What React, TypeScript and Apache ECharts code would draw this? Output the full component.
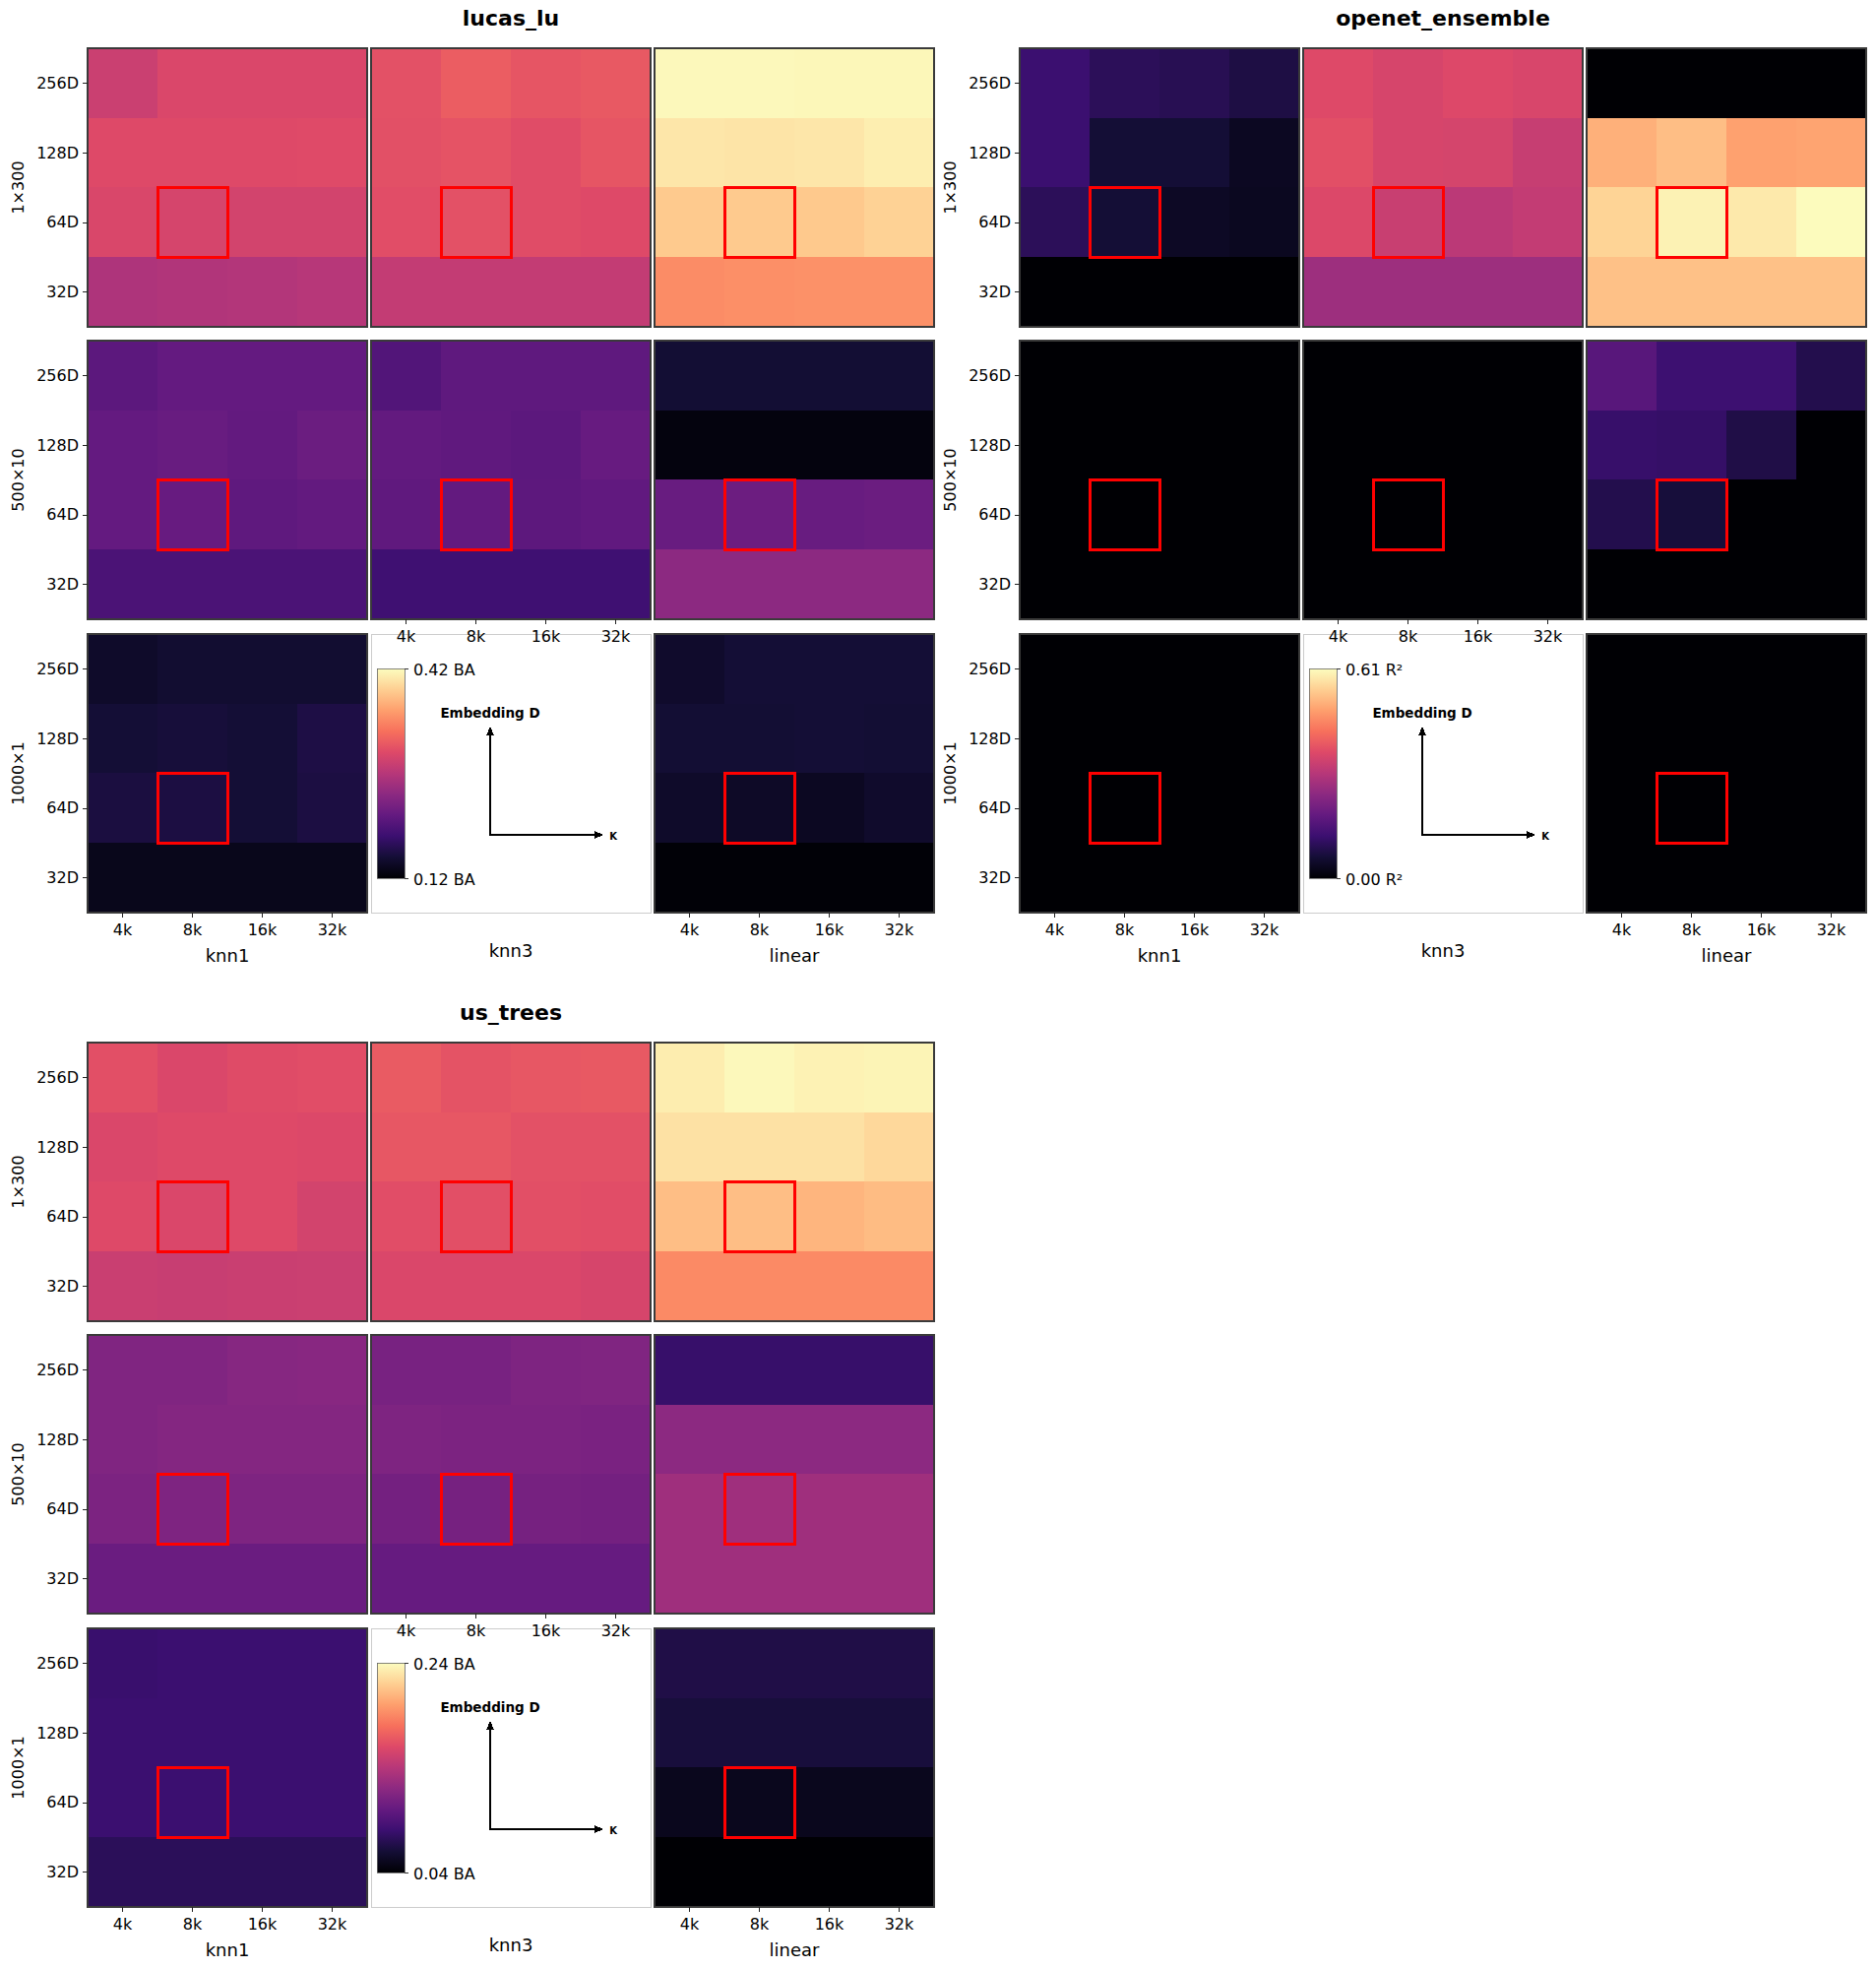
import React, { useEffect, useRef } from "react";
import * as echarts from "echarts";

// ---------- categories / labels ----------
const K_LABELS = ["4k", "8k", "16k", "32k"];
const D_LABELS = ["32D", "64D", "128D", "256D"]; // bottom -> top
const SIZE_LABELS = ["1×300", "500×10", "1000×1"];
const MODEL_LABELS = ["knn1", "knn3", "linear"];
const DATASETS = ["lucas_lu", "openet_ensemble", "us_trees"];
const RANGE_MIN = [0.12, 0.0, 0.04];
const RANGE_MAX = [0.42, 0.61, 0.24];
const UNITS = ["BA", "R²", "BA"];
const HIGHLIGHT_K = "8k";
const HIGHLIGHT_D = "64D";

const MAGMA = [
  "#000004", "#140e36", "#3b0f70", "#641a80", "#8c2981", "#b73779",
  "#de4968", "#f7705c", "#fe9f6d", "#fecf92", "#fcfdbf",
];

// ---------- values: rows listed top (256D) to bottom (32D), columns 4k..32k ----------
// lucas_lu (BA)
const lucas_1x300_knn1 = [
  [0.285, 0.297, 0.297, 0.297],
  [0.3, 0.3, 0.3, 0.301],
  [0.296, 0.293, 0.291, 0.291],
  [0.264, 0.266, 0.267, 0.27],
];
const lucas_1x300_knn3 = [
  [0.306, 0.315, 0.309, 0.312],
  [0.305, 0.308, 0.302, 0.309],
  [0.303, 0.306, 0.302, 0.3],
  [0.279, 0.279, 0.279, 0.279],
];
const lucas_1x300_linear = [
  [0.417, 0.417, 0.416, 0.416],
  [0.405, 0.404, 0.405, 0.41],
  [0.387, 0.387, 0.386, 0.392],
  [0.348, 0.35, 0.351, 0.351],
];
const lucas_500x10_knn1 = [
  [0.204, 0.21, 0.21, 0.21],
  [0.21, 0.213, 0.209, 0.215],
  [0.21, 0.212, 0.206, 0.209],
  [0.192, 0.192, 0.192, 0.192],
];
const lucas_500x10_knn3 = [
  [0.197, 0.206, 0.206, 0.206],
  [0.209, 0.207, 0.204, 0.212],
  [0.207, 0.209, 0.205, 0.208],
  [0.183, 0.183, 0.183, 0.183],
];
const lucas_500x10_linear = [
  [0.149, 0.149, 0.149, 0.149],
  [0.126, 0.126, 0.126, 0.126],
  [0.213, 0.216, 0.213, 0.215],
  [0.24, 0.24, 0.24, 0.24],
];
const lucas_1000x1_knn1 = [
  [0.143, 0.147, 0.147, 0.147],
  [0.15, 0.152, 0.15, 0.158],
  [0.155, 0.156, 0.15, 0.156],
  [0.134, 0.134, 0.134, 0.134],
];
const lucas_1000x1_linear = [
  [0.144, 0.15, 0.15, 0.15],
  [0.149, 0.149, 0.15, 0.149],
  [0.143, 0.141, 0.138, 0.144],
  [0.122, 0.122, 0.122, 0.122],
];

// openet_ensemble (R²)
const openet_1x300_knn1 = [
  [0.122, 0.098, 0.092, 0.076],
  [0.122, 0.061, 0.061, 0.037],
  [0.098, 0.061, 0.04, 0.034],
  [0.0, 0.0, 0.0, 0.0],
];
const openet_1x300_knn3 = [
  [0.366, 0.354, 0.364, 0.357],
  [0.375, 0.354, 0.351, 0.329],
  [0.363, 0.332, 0.311, 0.323],
  [0.268, 0.268, 0.268, 0.268],
];
const openet_1x300_linear = [
  [0.0, 0.0, 0.0, 0.0],
  [0.509, 0.528, 0.491, 0.494],
  [0.555, 0.595, 0.583, 0.607],
  [0.531, 0.531, 0.531, 0.531],
];
const openet_500x10_knn1 = [
  [0.0, 0.0, 0.0, 0.0],
  [0.0, 0.0, 0.0, 0.0],
  [0.0, 0.0, 0.0, 0.0],
  [0.0, 0.0, 0.0, 0.0],
];
const openet_500x10_knn3 = [
  [0.0, 0.0, 0.0, 0.0],
  [0.0, 0.0, 0.0, 0.0],
  [0.0, 0.0, 0.0, 0.0],
  [0.0, 0.0, 0.0, 0.0],
];
const openet_500x10_linear = [
  [0.165, 0.125, 0.125, 0.085],
  [0.116, 0.113, 0.079, 0.0],
  [0.085, 0.066, 0.0, 0.0],
  [0.0, 0.0, 0.0, 0.0],
];
const openet_1000x1_knn1 = [
  [0.0, 0.0, 0.0, 0.0],
  [0.0, 0.0, 0.0, 0.0],
  [0.0, 0.0, 0.0, 0.0],
  [0.0, 0.0, 0.0, 0.0],
];
const openet_1000x1_linear = [
  [0.0, 0.0, 0.0, 0.0],
  [0.0, 0.0, 0.0, 0.0],
  [0.0, 0.0, 0.0, 0.0],
  [0.0, 0.0, 0.0, 0.0],
];

// us_trees (BA)
const trees_1x300_knn1 = [
  [0.163, 0.158, 0.161, 0.162],
  [0.158, 0.16, 0.16, 0.159],
  [0.16, 0.158, 0.16, 0.154],
  [0.149, 0.148, 0.149, 0.15],
];
const trees_1x300_knn3 = [
  [0.169, 0.165, 0.167, 0.168],
  [0.167, 0.167, 0.164, 0.164],
  [0.162, 0.163, 0.163, 0.162],
  [0.158, 0.158, 0.158, 0.156],
];
const trees_1x300_linear = [
  [0.233, 0.238, 0.235, 0.236],
  [0.228, 0.228, 0.228, 0.224],
  [0.213, 0.213, 0.209, 0.212],
  [0.191, 0.191, 0.191, 0.191],
];
const trees_500x10_knn1 = [
  [0.114, 0.114, 0.117, 0.118],
  [0.114, 0.116, 0.116, 0.116],
  [0.112, 0.113, 0.113, 0.113],
  [0.103, 0.103, 0.103, 0.103],
];
const trees_500x10_knn3 = [
  [0.11, 0.11, 0.113, 0.114],
  [0.113, 0.112, 0.112, 0.111],
  [0.108, 0.109, 0.109, 0.108],
  [0.101, 0.101, 0.101, 0.101],
];
const trees_500x10_linear = [
  [0.078, 0.078, 0.078, 0.078],
  [0.12, 0.12, 0.12, 0.12],
  [0.129, 0.129, 0.129, 0.129],
  [0.129, 0.129, 0.129, 0.129],
];
const trees_1000x1_knn1 = [
  [0.079, 0.08, 0.08, 0.08],
  [0.08, 0.08, 0.08, 0.08],
  [0.08, 0.08, 0.08, 0.08],
  [0.072, 0.072, 0.072, 0.072],
];
const trees_1000x1_linear = [
  [0.066, 0.066, 0.066, 0.066],
  [0.062, 0.062, 0.062, 0.062],
  [0.05, 0.05, 0.05, 0.05],
  [0.04, 0.04, 0.04, 0.04],
];

const PANELS: (number[][] | null)[][][] = [
  [
    [lucas_1x300_knn1, lucas_1x300_knn3, lucas_1x300_linear],
    [lucas_500x10_knn1, lucas_500x10_knn3, lucas_500x10_linear],
    [lucas_1000x1_knn1, null, lucas_1000x1_linear],
  ],
  [
    [openet_1x300_knn1, openet_1x300_knn3, openet_1x300_linear],
    [openet_500x10_knn1, openet_500x10_knn3, openet_500x10_linear],
    [openet_1000x1_knn1, null, openet_1000x1_linear],
  ],
  [
    [trees_1x300_knn1, trees_1x300_knn3, trees_1x300_linear],
    [trees_500x10_knn1, trees_500x10_knn3, trees_500x10_linear],
    [trees_1000x1_knn1, null, trees_1000x1_linear],
  ],
];

// ---------- layout ----------
const COL_LEFT = [89, 377, 665];
const ROW_TOP = [49, 346, 644];
const PW = 284;
const PH = 283;
const GROUP_OFFSET = [
  [0, 0],
  [947, 0],
  [0, 1010],
];
const FONT = "DejaVu Sans";

function buildOption() {
  const grid: any[] = [];
  const xAxis: any[] = [];
  const yAxis: any[] = [];
  const series: any[] = [];
  const visualMap: any[] = [];
  const graphic: any[] = [];

  DATASETS.forEach((name, g) => {
    const [ox, oy] = GROUP_OFFSET[g];
    const seriesIdx: number[] = [];

    // legend panel frame (drawn underneath everything else)
    const lx = ox + COL_LEFT[1];
    const ly = oy + ROW_TOP[2];
    graphic.push({
      type: "rect", z: 0, silent: true,
      shape: { x: lx, y: ly, width: PW, height: PH },
      style: { fill: "none", stroke: "#cccccc", lineWidth: 1 },
    });

    // title
    graphic.push({
      type: "text",
      x: ox + (COL_LEFT[0] + COL_LEFT[2] + PW) / 2,
      y: oy + 18,
      z: 100,
      style: {
        text: name, fontSize: 22, fontWeight: "bold", fontFamily: FONT,
        fill: "#000", align: "center", verticalAlign: "middle",
      },
    });

    for (let r = 0; r < 3; r++) {
      // row label
      graphic.push({
        type: "text",
        x: ox + 18,
        y: oy + ROW_TOP[r] + PH / 2,
        rotation: Math.PI / 2,
        z: 100,
        style: {
          text: SIZE_LABELS[r], fontSize: 16, fontFamily: FONT, fill: "#000",
          align: "center", verticalAlign: "middle",
        },
      });
      for (let c = 0; c < 3; c++) {
        const vals = PANELS[g][r][c];
        const left = ox + COL_LEFT[c];
        const top = oy + ROW_TOP[r];
        if (!vals) continue;
        const gi = grid.length;
        const showX = r === 2 || (r === 1 && c === 1);
        const showY = c === 0;
        grid.push({ left, top, width: PW, height: PH, show: false });
        xAxis.push({
          type: "category", gridIndex: gi, data: K_LABELS, z: 80,
          axisLine: { show: false },
          axisTick: { show: showX, alignWithLabel: true, length: 5, lineStyle: { color: "#222", width: 1 } },
          axisLabel: { show: showX, margin: 9, fontSize: 16, fontFamily: FONT, color: "#000" },
          splitLine: { show: false },
        });
        yAxis.push({
          type: "category", gridIndex: gi, data: D_LABELS, z: 80,
          axisLine: { show: false },
          axisTick: { show: showY, alignWithLabel: true, length: 5, lineStyle: { color: "#222", width: 1 } },
          axisLabel: { show: showY, margin: 9, fontSize: 16, fontFamily: FONT, color: "#000" },
          splitLine: { show: false },
        });
        const data: any[] = [];
        vals.forEach((row, ri) => {
          row.forEach((v, ci) => {
            data.push([ci, D_LABELS.length - 1 - ri, v]);
          });
        });
        seriesIdx.push(series.length);
        series.push({
          type: "heatmap", xAxisIndex: gi, yAxisIndex: gi, data,
          itemStyle: { borderWidth: 0 },
          emphasis: { disabled: true },
          progressive: 0,
          z: 2,
        });
        series.push({
          type: "custom", xAxisIndex: gi, yAxisIndex: gi,
          data: [[HIGHLIGHT_K, HIGHLIGHT_D]],
          z: 5,
          silent: true,
          renderItem: (params: any, api: any) => {
            const p = api.coord([api.value(0), api.value(1)]);
            const s = api.size([1, 1]);
            return {
              type: "rect",
              shape: { x: p[0] - s[0] / 2, y: p[1] - s[1] / 2, width: s[0], height: s[1] },
              style: { fill: "none", stroke: "#ff0000", lineWidth: 3 },
            };
          },
        });
        // panel frame
        graphic.push({
          type: "rect", z: 50, silent: true,
          shape: { x: left, y: top, width: PW, height: PH },
          style: { fill: "none", stroke: "#3a3a3a", lineWidth: 1.2 },
        });
      }
    }

    // model labels
    MODEL_LABELS.forEach((m, c) => {
      graphic.push({
        type: "text",
        x: ox + COL_LEFT[c] + PW / 2,
        y: oy + (c === 1 ? 965 : 970),
        z: 100,
        style: {
          text: m, fontSize: 18, fontFamily: FONT, fill: "#000",
          align: "center", verticalAlign: "middle",
        },
      });
    });

    visualMap.push({
      type: "continuous", show: false, dimension: 2,
      min: RANGE_MIN[g], max: RANGE_MAX[g],
      seriesIndex: seriesIdx,
      inRange: { color: MAGMA },
    });

    // legend contents
    const barX = lx + 6, barY = ly + 35, barW = 28, barH = 213;
    graphic.push({
      type: "rect", z: 60, silent: true,
      shape: { x: barX, y: barY, width: barW, height: barH },
      style: {
        fill: {
          type: "linear", x: 0, y: 1, x2: 0, y2: 0,
          colorStops: MAGMA.map((col, i) => ({ offset: i / (MAGMA.length - 1), color: col })),
        },
        stroke: "#666", lineWidth: 0.8,
      },
    });
    [barY, barY + barH].forEach((ty) => {
      graphic.push({
        type: "line", z: 61, silent: true,
        shape: { x1: barX + barW, y1: ty, x2: barX + barW + 4, y2: ty },
        style: { stroke: "#333", lineWidth: 1 },
      });
    });
    graphic.push({
      type: "text", x: lx + 43, y: barY + 1, z: 61,
      style: {
        text: `${RANGE_MAX[g].toFixed(2)} ${UNITS[g]}`, fontSize: 16, fontFamily: FONT,
        fill: "#000", align: "left", verticalAlign: "middle",
      },
    });
    graphic.push({
      type: "text", x: lx + 43, y: barY + barH + 1, z: 61,
      style: {
        text: `${RANGE_MIN[g].toFixed(2)} ${UNITS[g]}`, fontSize: 16, fontFamily: FONT,
        fill: "#000", align: "left", verticalAlign: "middle",
      },
    });
    const ax = lx + 121, ay = ly + 204;
    const topY = ly + 94, rightX = lx + 236;
    graphic.push({
      type: "text", x: ax, y: ly + 80, z: 61,
      style: {
        text: "Embedding D", fontSize: 13.5, fontWeight: "bold", fontFamily: FONT,
        fill: "#000", align: "center", verticalAlign: "middle",
      },
    });
    graphic.push({
      type: "line", z: 61, silent: true,
      shape: { x1: ax, y1: ay, x2: ax, y2: topY + 7 },
      style: { stroke: "#000", lineWidth: 2 },
    });
    graphic.push({
      type: "polygon", z: 61, silent: true,
      shape: { points: [[ax, topY], [ax - 4, topY + 9], [ax + 4, topY + 9]] },
      style: { fill: "#000" },
    });
    graphic.push({
      type: "line", z: 61, silent: true,
      shape: { x1: ax - 1, y1: ay, x2: rightX - 7, y2: ay },
      style: { stroke: "#000", lineWidth: 2 },
    });
    graphic.push({
      type: "polygon", z: 61, silent: true,
      shape: { points: [[rightX, ay], [rightX - 9, ay - 4], [rightX - 9, ay + 4]] },
      style: { fill: "#000" },
    });
    graphic.push({
      type: "text", x: lx + 246, y: ay + 1, z: 61,
      style: {
        text: "K", fontSize: 10, fontWeight: "bold", fontFamily: FONT,
        fill: "#000", align: "center", verticalAlign: "middle",
      },
    });
  });

  return {
    animation: false,
    backgroundColor: "#ffffff",
    textStyle: { fontFamily: FONT },
    grid, xAxis, yAxis, series, visualMap, graphic,
  };
}

export default function App() {
  const ref = useRef<HTMLDivElement>(null);
  useEffect(() => {
    if (!ref.current) return;
    const chart = echarts.init(ref.current, null, { renderer: "svg" });
    chart.setOption(buildOption() as any);
    return () => chart.dispose();
  }, []);
  return (
    <>
      <style>{"#heatmap-grid svg path { shape-rendering: crispEdges; }"}</style>
      <div
        id="heatmap-grid"
        ref={ref}
        style={{ position: "absolute", left: 0, top: 0, width: 1906, height: 1999 }}
      />
    </>
  );
}
